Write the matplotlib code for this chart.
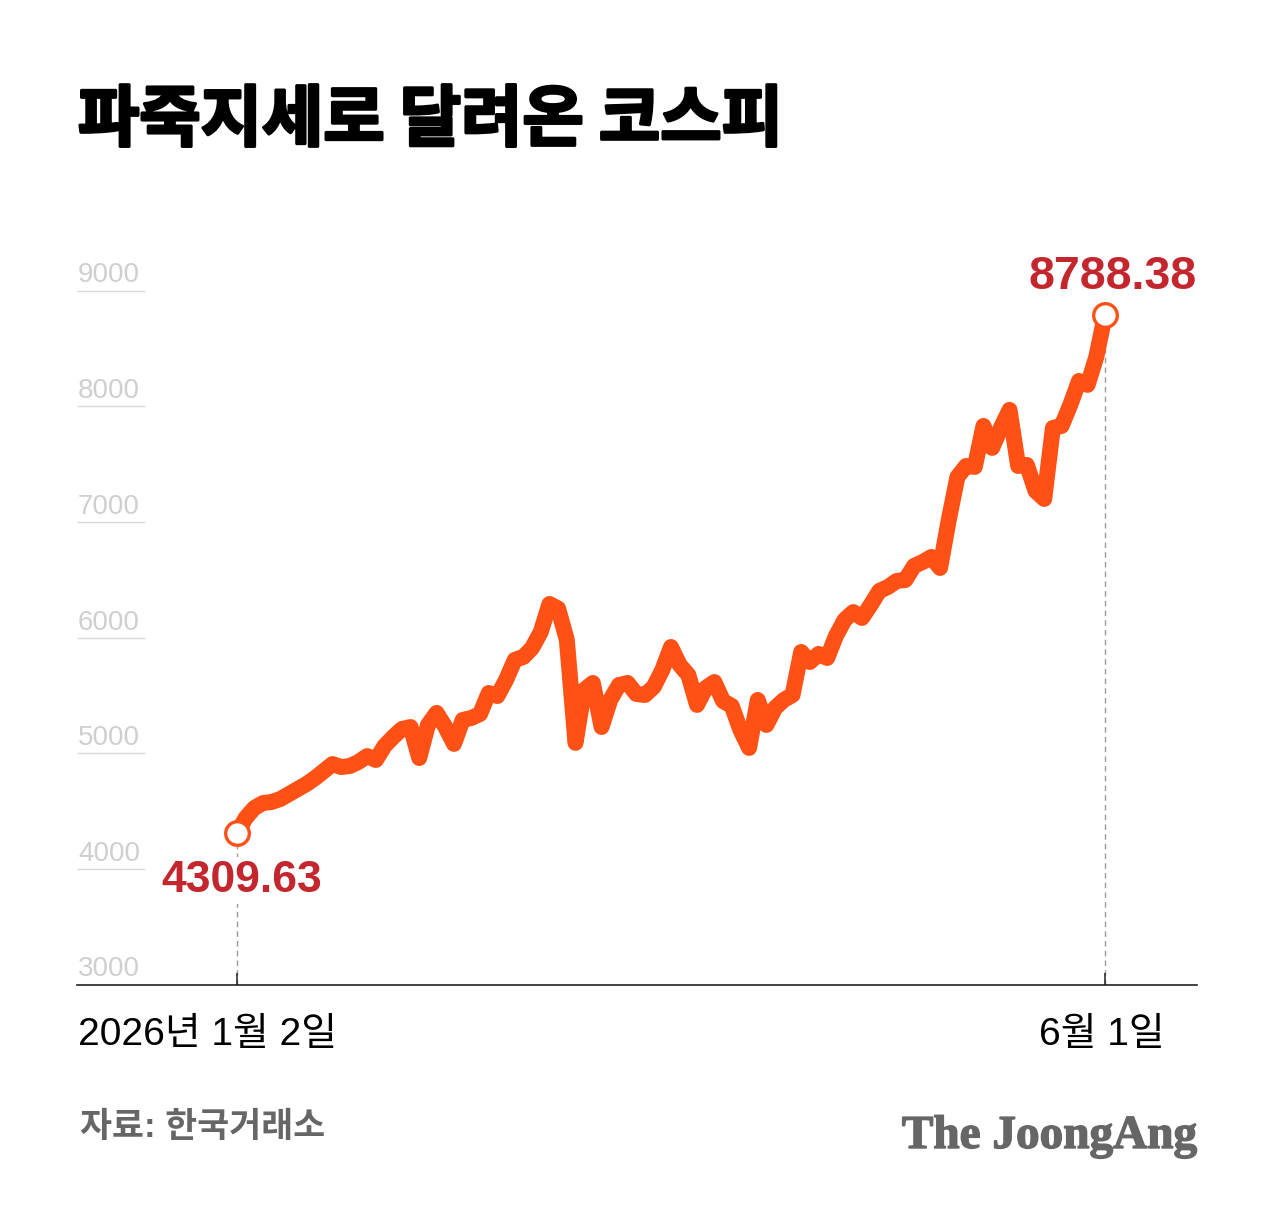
import numpy as np
import matplotlib.pyplot as plt
import matplotlib.patheffects as pe

# KOSPI daily close, 2026-01-02 .. 2026-06-01
kospi = [
    4309.63, 4440, 4526, 4569, 4578, 4604, 4647, 4690, 4733, 4785,
    4845, 4906, 4880, 4889, 4924, 4975, 4941, 5062, 5140, 5209,
    5226, 4958, 5244, 5348, 5227, 5080, 5287, 5304, 5339, 5520,
    5494, 5633, 5806, 5832, 5910, 6048, 6290, 6250, 5980, 5089,
    5546, 5607, 5226, 5460, 5589, 5607, 5512, 5503, 5572, 5719,
    5918, 5763, 5676, 5417, 5563, 5615, 5451, 5408, 5200, 5045,
    5460, 5244, 5391, 5460, 5503, 5875, 5788, 5858, 5823, 6013,
    6152, 6220, 6169, 6281, 6402, 6437, 6489, 6497, 6618, 6653,
    6696, 6601, 7016, 7388, 7483, 7475, 7829, 7639, 7812, 7968,
    7483, 7492, 7267, 7198, 7812, 7829, 8011, 8218, 8184, 8426,
    8788.38,
]
y_ticks = [3000, 4000, 5000, 6000, 7000, 8000, 9000]
start_label = "2026년 1월 2일"
end_label = "6월 1일"

LINE = "#FF5116"
RED = "#C4262E"
KR = ["Liberation Sans", "Noto Sans CJK KR"]

W, H = 1280, 1208
fig = plt.figure(figsize=(W / 100, H / 100), dpi=100)
ax = fig.add_axes([77 / W, 1 - 984.5 / H, 1120 / W, (984.5 - 255.8) / H])

x = np.arange(len(kospi))
ax.set_xlim(-18.43, 110.6)
ax.set_ylim(3000, 9300)

for s in ["top", "right", "left"]:
    ax.spines[s].set_visible(False)
ax.spines["bottom"].set_color("#222222")
ax.spines["bottom"].set_linewidth(1.2)
ax.set_yticks([])
ax.set_xticks([x[0], x[-1]])
ax.set_xticklabels([])
ax.tick_params(axis="x", direction="in", length=9, width=1.1, color="#222222")

# short gridlines with labels on top
ytr = ax.get_yaxis_transform()
ax.hlines(y_ticks[1:], 0, 68 / 1120, transform=ytr, color="#DADADA", lw=1)
for v in y_ticks:
    ax.annotate(str(v), xy=(0, v), xycoords=ytr, xytext=(1, 8),
                textcoords="offset pixels", ha="left", va="baseline",
                fontsize=20, color="#CFCFCF", family="Liberation Sans")

# dashed guides
ax.vlines(x[-1], 3000, kospi[-1], color="#999999", lw=1, linestyles=(0, (4, 3)), zorder=1)
ax.vlines(x[0], 3000, kospi[0], color="#999999", lw=1, linestyles=(0, (4, 3)), zorder=1)

ax.plot(x, kospi, color=LINE, lw=11.5, solid_joinstyle="round",
        solid_capstyle="round", zorder=3)
ax.plot([x[0], x[-1]], [kospi[0], kospi[-1]], "o", ms=17, mfc="white",
        mec=LINE, mew=2.4, zorder=4)

ax.annotate(f"{kospi[-1]:.2f}", xy=(x[-1], kospi[-1]),
            xytext=(92, 26), textcoords="offset pixels", ha="right",
            va="baseline", fontsize=33.5, fontweight="bold", color=RED,
            family="Liberation Sans", zorder=5)
ax.annotate(f"{kospi[0]:.2f}", xy=(x[0], kospi[0]),
            xytext=(5, -59), textcoords="offset pixels", ha="center",
            va="baseline", fontsize=32, fontweight="bold", color=RED,
            family="Liberation Sans", zorder=5,
            bbox=dict(facecolor="white", edgecolor="none", pad=2))

# date labels
fig.text(78 / W, 1 - 1045 / H, start_label, ha="left", va="baseline",
         fontsize=28, color="black", family=KR)
fig.text(1102 / W, 1 - 1045 / H, end_label, ha="center", va="baseline",
         fontsize=28, color="black", family=KR)

title = fig.text(78 / W, 1 - 121 / H, "파죽지세로 달려온 코스피", ha="left",
                 va="center", fontsize=48, fontweight="heavy", color="black",
                 family="Noto Sans CJK KR")
title.set_path_effects([pe.withStroke(linewidth=2.2, foreground="black")])
fig.text(80 / W, 1 - 1128 / H, "자료: 한국거래소", ha="left", va="center",
         fontsize=25, fontweight="bold", color="#666666", family=KR)
logo = fig.text(1197 / W, 1 - 1148 / H, "The JoongAng", ha="right", va="baseline",
                fontsize=34, fontweight="bold", color="#666666",
                family="Liberation Serif")
logo.set_path_effects([pe.withStroke(linewidth=1, foreground="#666666")])

fig.savefig("out.png", dpi=100, facecolor="white")
